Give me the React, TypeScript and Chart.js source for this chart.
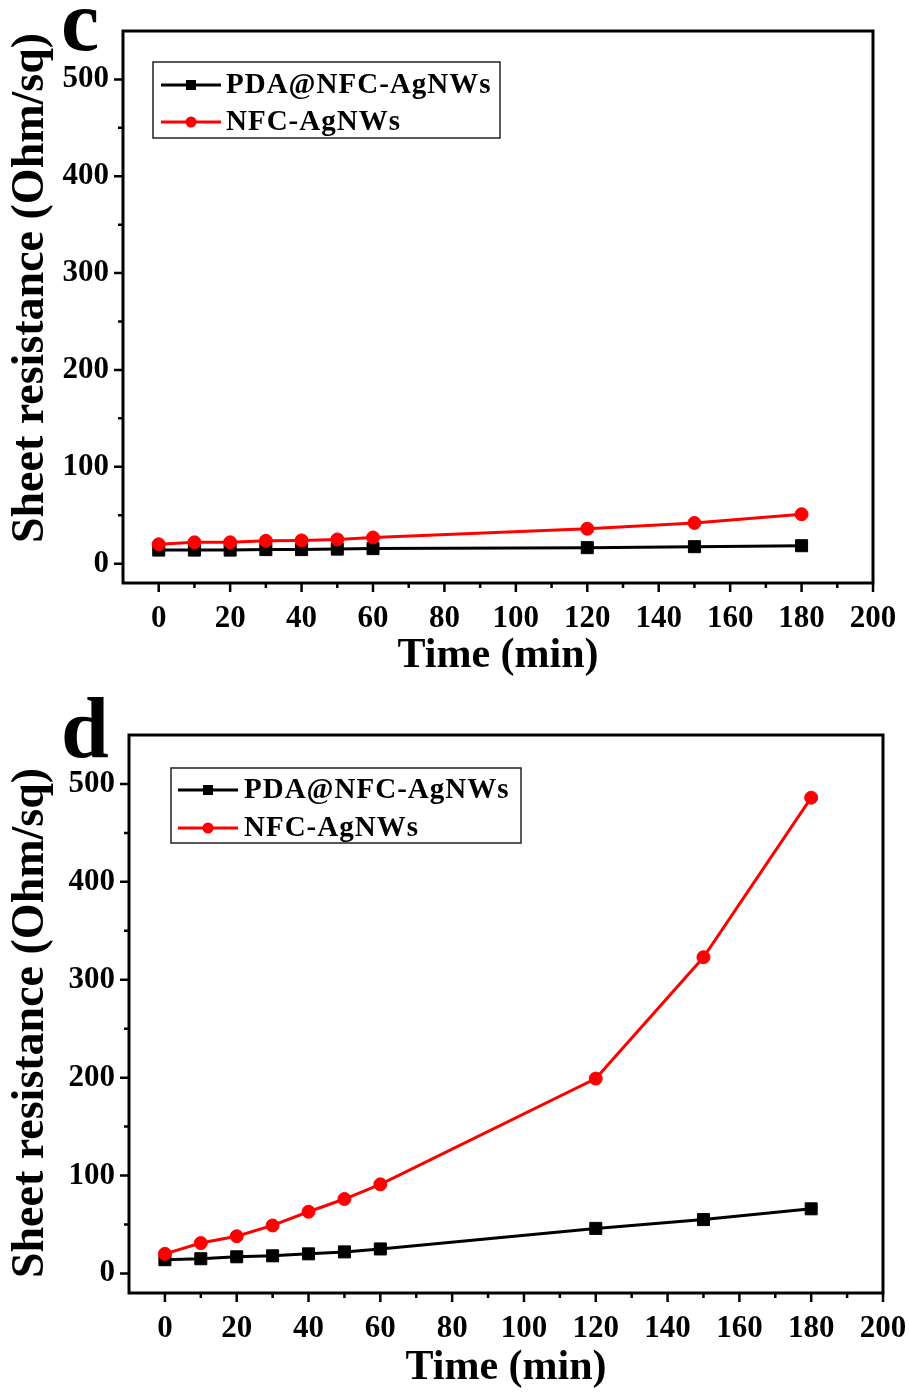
import React, { useEffect, useRef } from 'react';
import { Chart, registerables } from 'chart.js';

Chart.register(...registerables);

// ---------- data ----------
const timeMin = [0, 10, 20, 30, 40, 50, 60, 120, 150, 180];
const cPDA = [14, 14, 14, 14.5, 14.5, 15, 15.5, 16.5, 17.5, 18.5];
const cNFC = [20, 22, 22, 23.5, 24, 25, 27, 36, 42, 51];
const dPDA = [14, 15, 17, 18, 20, 22, 25, 46, 55, 66];
const dNFC = [20, 31, 38, 49, 63, 76, 91, 199, 323, 486];
const seriesNames = ['PDA@NFC-AgNWs', 'NFC-AgNWs'];
const xTickLabels = [0, 20, 40, 60, 80, 100, 120, 140, 160, 180, 200];
const xMinorTicks = [10, 30, 50, 70, 90, 110, 130, 150, 170, 190];
const yTickLabels = [0, 100, 200, 300, 400, 500];
const yMinorTicks = [50, 150, 250, 350, 450];
const panelLetters = ['c', 'd'];
const xTitle = 'Time (min)';
const yTitle = 'Sheet resistance (Ohm/sq)';

// ---------- layout / style ----------
const W = 909;
const H = 697;
const FONT = "'Liberation Serif', 'Times New Roman', serif";
const RED = '#FF0000';

type Layout = {
  area: { left: number; top: number; right: number; bottom: number };
  legend: { left: number; top: number; right: number; bottom: number; row1: number; row2: number; lineL: number; lineR: number; textX: number };
  yTitleX: number;
  yTitleY: number;
  letterX: number;
  letterY: number;
  xTitlePad: number;
};

const layouts: Layout[] = [
  {
    area: { left: 123, top: 31, right: 873, bottom: 583 },
    legend: { left: 153, top: 62, right: 500, bottom: 138, row1: 85, row2: 122, lineL: 161, lineR: 221, textX: 226 },
    yTitleX: 31,
    yTitleY: 288,
    letterX: 61,
    letterY: 50,
    xTitlePad: 16,
  },
  {
    area: { left: 129, top: 38, right: 883, bottom: 596 },
    legend: { left: 171, top: 71, right: 521, bottom: 146, row1: 93, row2: 131, lineL: 178, lineR: 238, textX: 244 },
    yTitleX: 31,
    yTitleY: 326,
    letterX: 61,
    letterY: 60,
    xTitlePad: 1,
  },
];

function makePlugin(idx: number) {
  const L = layouts[idx];
  return {
    id: 'frameDecor' + idx,
    afterDatasetsDraw(chart: any) {
      const { ctx, chartArea: a, scales } = chart;
      const x = scales.x;
      const y = scales.y;
      ctx.save();
      // frame
      ctx.strokeStyle = '#000';
      ctx.lineWidth = 3;
      ctx.strokeRect(a.left, a.top, a.right - a.left, a.bottom - a.top);
      // ticks
      ctx.lineWidth = 2.5;
      ctx.beginPath();
      xTickLabels.forEach((v) => {
        const p = x.getPixelForValue(v);
        ctx.moveTo(p, a.bottom);
        ctx.lineTo(p, a.bottom + 9);
      });
      xMinorTicks.forEach((v) => {
        const p = x.getPixelForValue(v);
        ctx.moveTo(p, a.bottom);
        ctx.lineTo(p, a.bottom + 5);
      });
      yTickLabels.forEach((v) => {
        const p = y.getPixelForValue(v);
        ctx.moveTo(a.left, p);
        ctx.lineTo(a.left - 9, p);
      });
      yMinorTicks.forEach((v) => {
        const p = y.getPixelForValue(v);
        ctx.moveTo(a.left, p);
        ctx.lineTo(a.left - 5, p);
      });
      ctx.stroke();

      // legend
      const lg = L.legend;
      ctx.lineWidth = 1.5;
      ctx.strokeStyle = '#222';
      ctx.strokeRect(lg.left, lg.top, lg.right - lg.left, lg.bottom - lg.top);
      const rows = [lg.row1, lg.row2];
      chart.data.datasets.forEach((ds: any, i: number) => {
        const ry = rows[i];
        ctx.strokeStyle = ds.borderColor;
        ctx.fillStyle = ds.backgroundColor;
        ctx.lineWidth = 3;
        ctx.beginPath();
        ctx.moveTo(lg.lineL, ry);
        ctx.lineTo(lg.lineR, ry);
        ctx.stroke();
        const cx = (lg.lineL + lg.lineR) / 2;
        if (ds.pointStyle === 'rect') {
          ctx.fillRect(cx - 5, ry - 5, 10, 10);
        } else {
          ctx.beginPath();
          ctx.arc(cx, ry, 5.5, 0, Math.PI * 2);
          ctx.fill();
        }
        ctx.fillStyle = '#000';
        ctx.font = `bold 29px ${FONT}`;
        (ctx as any).letterSpacing = '1px';
        ctx.textAlign = 'left';
        ctx.textBaseline = 'middle';
        ctx.fillText(ds.label, lg.textX, ry + 1);
        (ctx as any).letterSpacing = '0px';
      });

      // panel letter
      ctx.fillStyle = '#000';
      ctx.font = `bold 86px ${FONT}`;
      ctx.textAlign = 'left';
      ctx.textBaseline = 'alphabetic';
      ctx.fillText(panelLetters[idx], L.letterX, L.letterY);

      // y title
      ctx.translate(L.yTitleX, L.yTitleY);
      ctx.rotate(-Math.PI / 2);
      ctx.font = `bold 46px ${FONT}`;
      ctx.textAlign = 'center';
      ctx.textBaseline = 'middle';
      ctx.fillText(yTitle, 0, 0);
      ctx.restore();
    },
  };
}

function Panel({ idx, pda, nfc }: { idx: number; pda: number[]; nfc: number[] }) {
  const ref = useRef<HTMLCanvasElement | null>(null);
  useEffect(() => {
    const L = layouts[idx];
    const tickFont = { family: FONT, size: 31, weight: 'bold' as const };
    const chart = new Chart(ref.current as HTMLCanvasElement, {
      type: 'line',
      data: {
        datasets: [
          {
            label: seriesNames[0],
            data: timeMin.map((t, i) => ({ x: t, y: pda[i] })),
            borderColor: '#000',
            backgroundColor: '#000',
            borderWidth: 3,
            pointStyle: 'rect',
            pointRadius: 8.5,
            pointBorderWidth: 1,
            pointHoverRadius: 8.5,
            order: 1,
          },
          {
            label: seriesNames[1],
            data: timeMin.map((t, i) => ({ x: t, y: nfc[i] })),
            borderColor: RED,
            backgroundColor: RED,
            borderWidth: 3,
            pointStyle: 'circle',
            pointRadius: 6.5,
            pointBorderWidth: 1,
            pointHoverRadius: 6.5,
            order: 0,
          },
        ] as any,
      },
      options: {
        responsive: false,
        animation: false,
        events: [],
        layout: { padding: { left: 0, top: L.area.top, right: W - L.area.right, bottom: 0 } },
        plugins: { legend: { display: false }, tooltip: { enabled: false } },
        scales: {
          x: {
            type: 'linear',
            position: 'bottom',
            min: -10,
            max: 200,
            grid: { display: false, drawTicks: false },
            border: { display: false },
            afterBuildTicks: (s: any) => {
              s.ticks = xTickLabels.map((v) => ({ value: v }));
            },
            ticks: {
              autoSkip: false,
              maxRotation: 0,
              padding: 17,
              color: '#000',
              font: tickFont,
              callback: (v: any) => String(v),
            },
            title: {
              display: true,
              text: xTitle,
              color: '#000',
              font: { family: FONT, size: 42, weight: 'bold' },
              padding: { top: 0, bottom: L.xTitlePad },
            },
            afterFit: (s: any) => {
              s.height = H - L.area.bottom;
              s.paddingLeft = 0;
              s.paddingRight = 0;
            },
          },
          y: {
            type: 'linear',
            position: 'left',
            min: -20,
            max: 550,
            grid: { display: false, drawTicks: false },
            border: { display: false },
            afterBuildTicks: (s: any) => {
              s.ticks = yTickLabels.map((v) => ({ value: v }));
            },
            ticks: {
              autoSkip: false,
              padding: 14,
              color: '#000',
              font: tickFont,
              callback: (v: any) => String(v),
            },
            afterFit: (s: any) => {
              s.width = L.area.left;
              s.paddingTop = 0;
              s.paddingBottom = 0;
            },
          },
        },
      } as any,
      plugins: [makePlugin(idx)],
    });
    return () => chart.destroy();
  }, [idx, pda, nfc]);
  return <canvas ref={ref} width={W} height={H} style={{ display: 'block', width: W, height: H }} />;
}

export default function App() {
  return (
    <div style={{ position: 'absolute', left: 0, top: 0, width: W, height: 2 * H, background: '#fff' }}>
      <Panel idx={0} pda={cPDA} nfc={cNFC} />
      <Panel idx={1} pda={dPDA} nfc={dNFC} />
    </div>
  );
}
